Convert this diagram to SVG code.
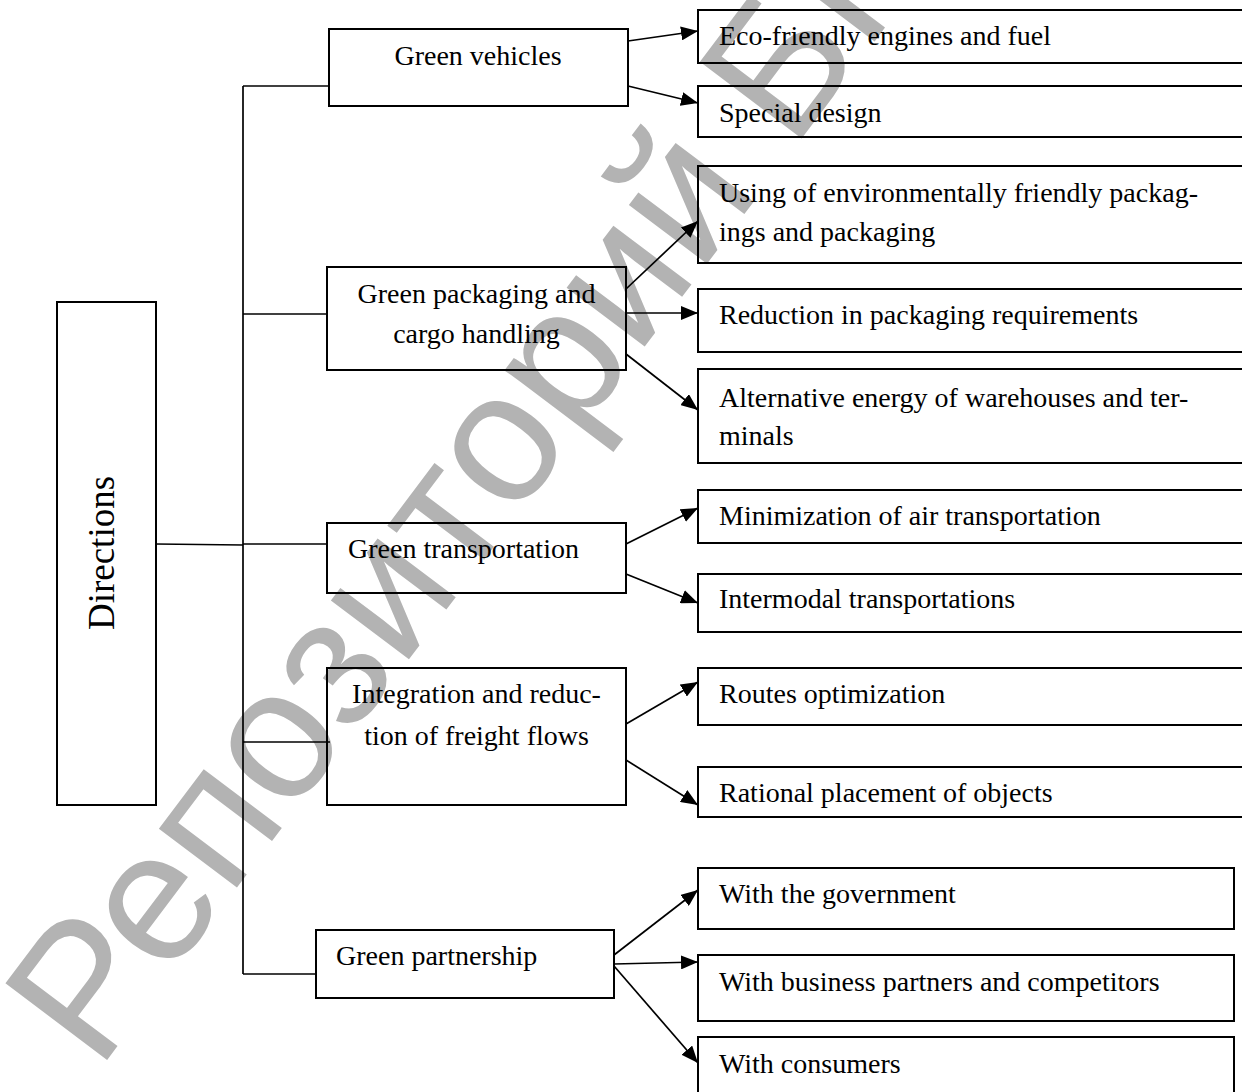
<svg xmlns="http://www.w3.org/2000/svg" width="1242" height="1092" viewBox="0 0 1242 1092">
<style>
.box{fill:none;stroke:#000;stroke-width:2}
.t{font-family:"Liberation Serif","Times New Roman",serif;font-size:28px;fill:#000}
.c{text-anchor:middle}
.ln{fill:none;stroke:#000;stroke-width:1.7}
.wm{font-family:"Liberation Sans",Arial,sans-serif;font-size:185px;fill:#b3b3b3}
</style>
<defs>
<marker id="ah" markerWidth="17" markerHeight="14" refX="17" refY="7" orient="auto" markerUnits="userSpaceOnUse">
<path d="M0,0 L17,7 L0,14 z" fill="#000"/>
</marker>
</defs>
<rect width="1242" height="1092" fill="#fff"/>
<text class="wm" transform="translate(98,1072) rotate(-53)">Репозиторий БНТУ</text>

<g id="directions">
<rect class="box" x="57" y="302" width="99" height="503"/>
<text class="t c" style="font-size:37px" transform="translate(114,553) rotate(-90)">Directions</text>
</g>

<g id="green-vehicles">
<rect class="box" x="329" y="29" width="299" height="77"/>
<text class="t c" x="478" y="65">Green vehicles</text>
</g>
<g id="green-packaging">
<rect class="box" x="327" y="267" width="299" height="103"/>
<text class="t c" x="476.5" y="303">Green packaging and</text>
<text class="t c" x="476.5" y="343">cargo handling</text>
</g>
<g id="green-transportation">
<rect class="box" x="327" y="523" width="299" height="70"/>
<text class="t" x="348" y="558">Green transportation</text>
</g>
<g id="integration">
<rect class="box" x="327" y="668" width="299" height="137"/>
<text class="t c" x="476.5" y="703">Integration and reduc-</text>
<text class="t c" x="476.5" y="745">tion of freight flows</text>
</g>
<g id="green-partnership">
<rect class="box" x="316" y="930" width="298" height="68"/>
<text class="t" x="336" y="965">Green partnership</text>
</g>

<g id="eco-engines">
<rect class="box" x="698" y="10" width="600" height="53"/>
<text class="t" x="719" y="45">Eco-friendly engines and fuel</text>
</g>
<g id="special-design">
<rect class="box" x="698" y="86" width="600" height="51"/>
<text class="t" x="719" y="122">Special design</text>
</g>
<g id="eco-packaging">
<rect class="box" x="698" y="166" width="600" height="97"/>
<text class="t" x="719" y="202">Using of environmentally friendly packag-</text>
<text class="t" x="719" y="241">ings and packaging</text>
</g>
<g id="reduction">
<rect class="box" x="698" y="289" width="600" height="63"/>
<text class="t" x="719" y="324">Reduction in packaging requirements</text>
</g>
<g id="alternative-energy">
<rect class="box" x="698" y="369" width="600" height="94"/>
<text class="t" x="719" y="407">Alternative energy of warehouses and ter-</text>
<text class="t" x="719" y="445">minals</text>
</g>
<g id="minimization">
<rect class="box" x="698" y="490" width="600" height="53"/>
<text class="t" x="719" y="525">Minimization of air transportation</text>
</g>
<g id="intermodal">
<rect class="box" x="698" y="574" width="600" height="58"/>
<text class="t" x="719" y="608">Intermodal transportations</text>
</g>
<g id="routes">
<rect class="box" x="698" y="668" width="600" height="57"/>
<text class="t" x="719" y="703">Routes optimization</text>
</g>
<g id="rational">
<rect class="box" x="698" y="767" width="600" height="50"/>
<text class="t" x="719" y="802">Rational placement of objects</text>
</g>
<g id="government">
<rect class="box" x="698" y="868" width="536" height="61"/>
<text class="t" x="719" y="903">With the government</text>
</g>
<g id="business">
<rect class="box" x="698" y="955" width="536" height="66"/>
<text class="t" x="719" y="991">With business partners and competitors</text>
</g>
<g id="consumers">
<rect class="box" x="698" y="1037" width="536" height="80"/>
<text class="t" x="719" y="1073">With consumers</text>
</g>

<g id="connectors">
<path class="ln" d="M156,544 L243,545"/>
<path class="ln" d="M243,86 V974"/>
<path class="ln" d="M243,86 H329"/>
<path class="ln" d="M243,314 H327"/>
<path class="ln" d="M243,544 H327"/>
<path class="ln" d="M243,742 H330"/>
<path class="ln" d="M243,974 H316"/>
<path class="ln" marker-end="url(#ah)" d="M628,41 L698,31"/>
<path class="ln" marker-end="url(#ah)" d="M628,86 L698,103"/>
<path class="ln" marker-end="url(#ah)" d="M626,289 L698,221"/>
<path class="ln" marker-end="url(#ah)" d="M626,313 L698,313"/>
<path class="ln" marker-end="url(#ah)" d="M626,354 L698,410"/>
<path class="ln" marker-end="url(#ah)" d="M626,544 L698,508"/>
<path class="ln" marker-end="url(#ah)" d="M626,574 L698,603"/>
<path class="ln" marker-end="url(#ah)" d="M626,724 L698,682"/>
<path class="ln" marker-end="url(#ah)" d="M626,760 L698,805"/>
<path class="ln" marker-end="url(#ah)" d="M614,955 L698,890"/>
<path class="ln" marker-end="url(#ah)" d="M614,964 L698,962"/>
<path class="ln" marker-end="url(#ah)" d="M614,966 L698,1063"/>
</g>
</svg>
